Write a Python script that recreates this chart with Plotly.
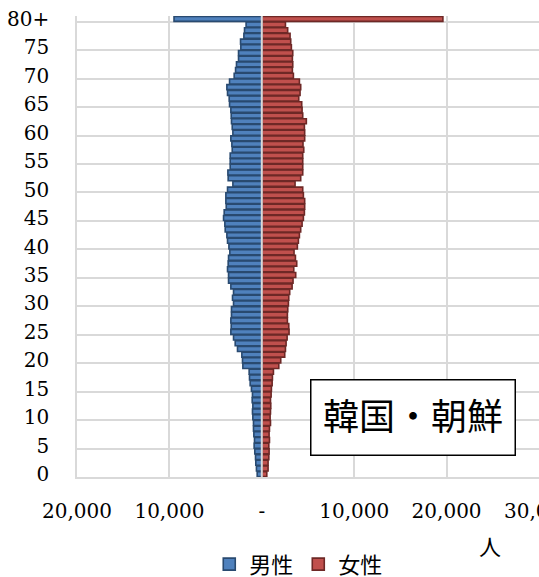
import plotly.graph_objects as go

# Single-year age classes 0..79 and 80+ (plotted at position 0..80)
age_pos = list(range(81))
tick_pos = list(range(0, 81, 5))
tick_text = [str(a) for a in range(0, 80, 5)] + ["80+"]

# Population by age (persons)
male = [500, 580, 650, 680, 760, 830, 790, 860, 900, 900,
        970, 1010, 970, 1040, 1010, 1120, 1260, 1330, 1370, 2050,
        2090, 2160, 2630, 2880, 3060, 3350, 3310, 3350, 3280, 3280,
        3060, 3170, 3060, 3350, 3600, 3600, 3710, 3640, 3600, 3460,
        3560, 3710, 3780, 3960, 4000, 4140, 4070, 3850, 3890, 3890,
        3710, 3130, 3640, 3670, 3420, 3420, 3420, 3200, 3240, 3350,
        3130, 3200, 3280, 3310, 3350, 3490, 3530, 3710, 3780, 3490,
        2990, 2840, 2740, 2520, 2520, 2270, 2300, 1940, 1870, 1700,
        9500]
female = [540, 680, 680, 760, 790, 760, 830, 790, 830, 940,
          900, 940, 970, 940, 1010, 1040, 1120, 1150, 1260, 1840,
          2050, 2480, 2560, 2630, 2740, 2950, 2920, 2770, 2770, 2810,
          2880, 2920, 3020, 3280, 3380, 3670, 3460, 3780, 3640, 3490,
          3850, 3960, 4070, 4210, 4360, 4500, 4610, 4640, 4640, 4500,
          4430, 3600, 4210, 4430, 4430, 4430, 4430, 4540, 4460, 4640,
          4640, 4610, 4820, 4430, 4360, 4320, 4000, 4140, 4210, 4070,
          3420, 3310, 3350, 3310, 3350, 3200, 3130, 3060, 2800, 2560,
          19600]

x_ticks = [-20000, -10000, 0, 10000, 20000, 30000]
x_text = ["20,000", "10,000", "-", "10,000", "20,000", "30,000"]

SERIF = "DejaVu Serif, Noto Sans CJK JP, serif"
GRID = "#d9d9d9"

fig = go.Figure()
fig.add_trace(go.Bar(
    y=age_pos, x=[-v for v in male], orientation="h", name="男性",
    marker=dict(color="#4F81BD", line=dict(color="#294A70", width=1.6)),
))
fig.add_trace(go.Bar(
    y=age_pos, x=female, orientation="h", name="女性",
    marker=dict(color="#C0504D", line=dict(color="#6E2826", width=1.6)),
))

# centre divider drawn over the bars
fig.add_shape(type="line", xref="x", yref="paper", x0=0, x1=0, y0=0, y1=1,
              line=dict(color=GRID, width=2), layer="above")

fig.add_annotation(
    text="韓国・朝鮮", xref="paper", yref="paper", x=0.727, y=0.130,
    xanchor="center", yanchor="middle", showarrow=False,
    font=dict(family=SERIF, size=36, color="black"),
    width=201, height=72, borderpad=1,
    bordercolor="black", borderwidth=1.5, bgcolor="white",
)
fig.add_annotation(
    text="人", xref="paper", yref="paper", x=0.894, y=-0.154,
    xanchor="center", yanchor="middle", showarrow=False,
    font=dict(family=SERIF, size=22, color="black"),
)

fig.update_layout(
    width=539, height=577,
    margin=dict(l=77, r=0, t=16, b=100, autoexpand=False),
    paper_bgcolor="white", plot_bgcolor="white",
    barmode="overlay", bargap=0.12,
    font=dict(family=SERIF, size=20, color="black"),
    showlegend=True,
    legend=dict(orientation="h", x=0.48, xanchor="center",
                yref="container", y=0.022, yanchor="middle",
                font=dict(family=SERIF, size=22, color="black"),
                itemwidth=30, traceorder="normal"),
)
fig.update_xaxes(
    range=[-20000, 30000], tickvals=x_ticks, ticktext=x_text,
    showgrid=True, gridcolor=GRID, gridwidth=1.5,
    zeroline=False, showline=True, linecolor=GRID, linewidth=1.5,
    ticks="", ticklabelstandoff=15, automargin=False,
    ticklabeloverflow="allow",
    tickfont=dict(family=SERIF, size=20),
)
fig.update_yaxes(
    range=[-0.5, 80.5], tickvals=tick_pos, ticktext=tick_text,
    showgrid=False, zeroline=False,
    showline=True, linecolor=GRID, linewidth=1.5,
    ticks="", ticklabelstandoff=22, automargin=False,
    tickfont=dict(family=SERIF, size=20),
    minor=dict(tickvals=[p - 0.5 for p in tick_pos], showgrid=True,
               gridcolor=GRID, gridwidth=1.5, ticks=""),
)

fig.write_html("out.html")
